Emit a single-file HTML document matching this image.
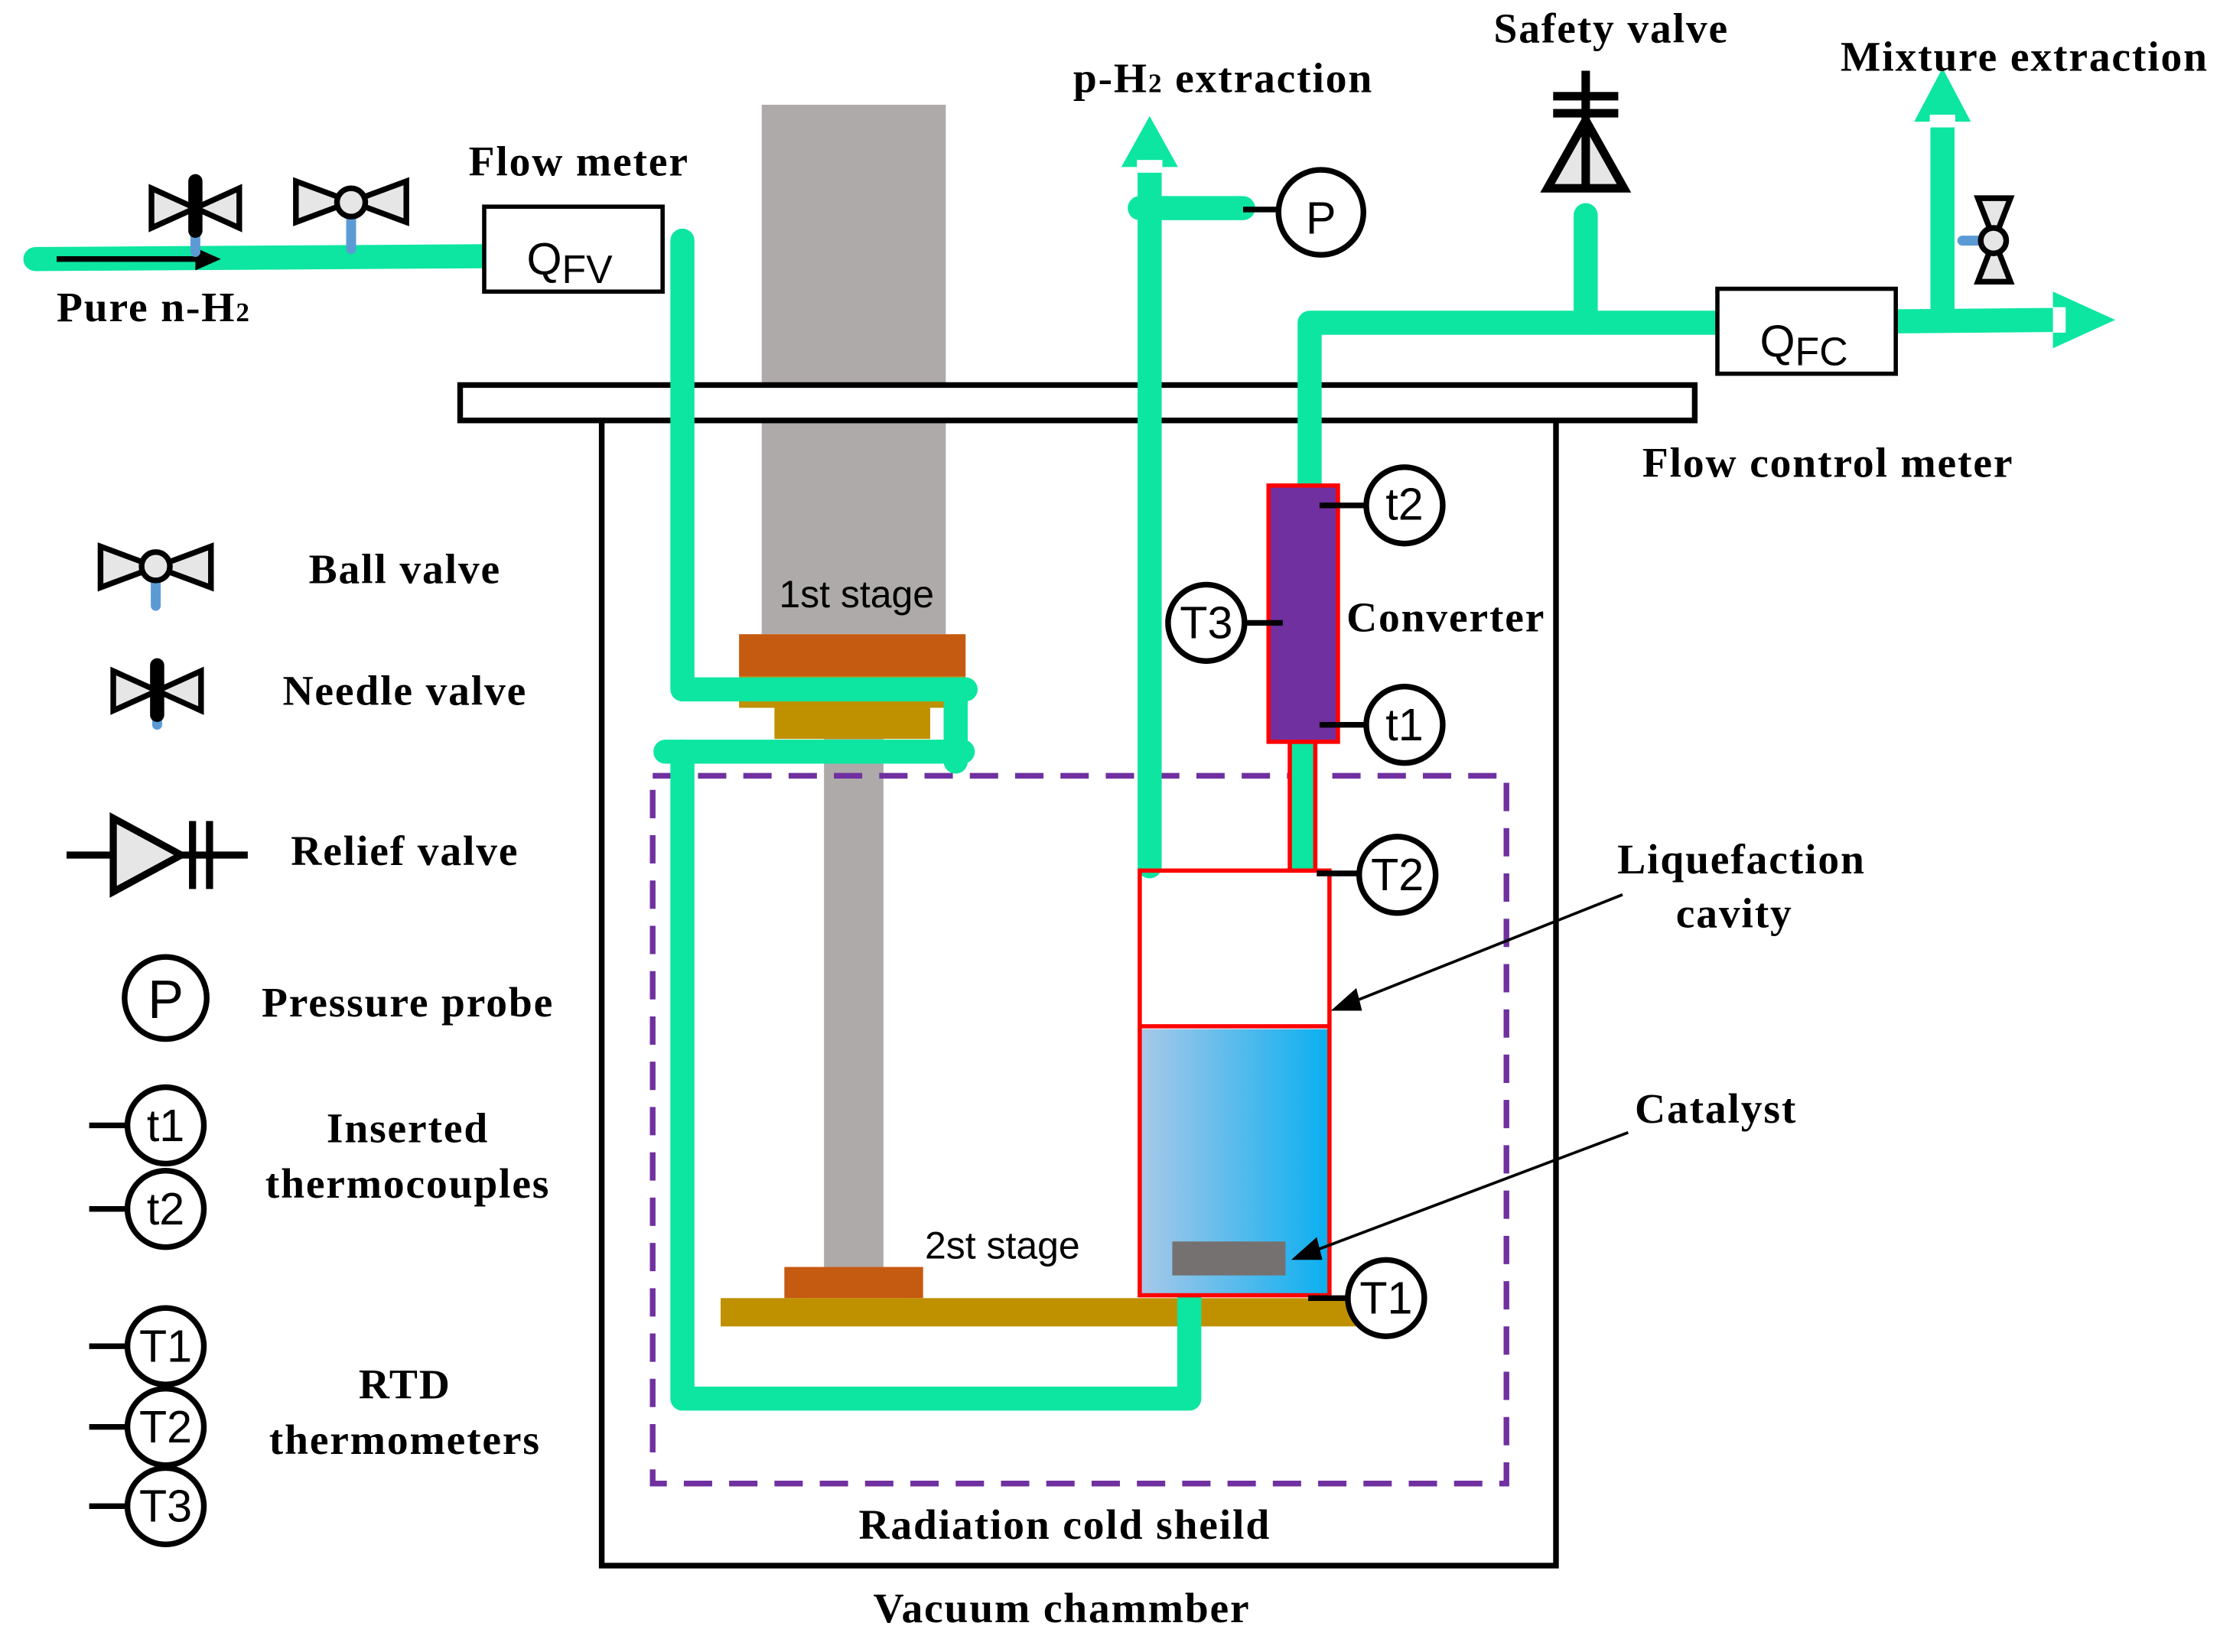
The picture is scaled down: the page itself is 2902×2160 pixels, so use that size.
<!DOCTYPE html>
<html><head><meta charset="utf-8"><style>
html,body{margin:0;padding:0;background:#fff}
svg{display:block}
.l{font-family:"Liberation Serif",serif;font-weight:bold;font-size:30px;letter-spacing:1px;fill:#000}
.s{font-family:"Liberation Sans",sans-serif;font-size:27px;fill:#000}
.c{font-family:"Liberation Sans",sans-serif;font-size:32px;fill:#000}
</style></head><body>
<svg width="2902" height="2160" viewBox="0 0 1568 1167" preserveAspectRatio="none" xmlns="http://www.w3.org/2000/svg">
<defs>
<linearGradient id="bg" x1="0" x2="1" y1="0" y2="0"><stop offset="0" stop-color="#a9c8e8"/><stop offset="1" stop-color="#0aaff0"/></linearGradient>
</defs>
<rect x="538" y="74" width="130" height="374" fill="#aeaaa9"/>
<rect x="582" y="522" width="42" height="373" fill="#aeaaa9"/>
<rect x="522" y="448" width="160" height="30" fill="#c55a11"/>
<rect x="547" y="500" width="110" height="22" fill="#bf9000"/>
<rect x="522" y="478" width="160" height="22" fill="#bf9000"/>
<rect x="554" y="895" width="98" height="22" fill="#c55a11"/>
<rect x="509" y="917" width="451" height="20" fill="#bf9000"/>
<rect x="325" y="272" width="872" height="25" fill="#fff" stroke="#000" stroke-width="4"/>
<polyline points="425,297 425,1106 1099,1106 1099,297" fill="none" stroke="#000" stroke-width="4"/>
<rect x="461" y="548" width="603" height="500" fill="none" stroke="#7030a0" stroke-width="4" stroke-dasharray="20,12"/>
<g stroke="#0ce6a0" stroke-width="17" fill="none" stroke-linecap="round" stroke-linejoin="round">
<line x1="25" y1="183" x2="345" y2="181"/>
<polyline points="482,170 482,487 682,487"/>
<polyline points="675,487 675,538"/>
<polyline points="680,531 470,531"/>
<polyline points="482,531 482,988 840,988 840,913"/>
<polyline points="812,612 812,120"/>
<polyline points="805,147 878,147"/>
<polyline points="925,345 925,228 1213,228"/>
<polyline points="1120,228 1120,152"/>
<polyline points="1339,227 1455,226"/>
<polyline points="1372,226 1372,90"/>
</g>
<polygon points="812,82 792,118 832,118" fill="#0ce6a0"/><rect x="803" y="113" width="18" height="9" fill="#fff"/>
<polygon points="1372,48 1352,86 1392,86" fill="#0ce6a0"/><rect x="1363" y="81" width="18" height="9" fill="#fff"/>
<polygon points="1494,226 1450,206 1450,246" fill="#0ce6a0"/><rect x="1450" y="217" width="9" height="18" fill="#fff"/>
<line x1="40" y1="183" x2="140" y2="183" stroke="#000" stroke-width="4"/><polygon points="156,183 138,175 138,191" fill="#000"/>
<line x1="138" y1="150" x2="138" y2="178" stroke="#5b9bd5" stroke-width="7" stroke-linecap="round"/>
<polygon points="107,133 169,161 169,133 107,161" fill="#e6e6e6" stroke="#000" stroke-width="4"/>
<line x1="138" y1="128" x2="138" y2="163" stroke="#000" stroke-width="10" stroke-linecap="round"/>
<line x1="248" y1="148" x2="248" y2="176" stroke="#5b9bd5" stroke-width="7" stroke-linecap="round"/>
<polygon points="209,128 287,157 287,128 209,157" fill="#e6e6e6" stroke="#000" stroke-width="4"/>
<circle cx="248" cy="143" r="10" fill="#e6e6e6" stroke="#000" stroke-width="4"/>
<rect x="342" y="146" width="126" height="60" fill="#fff" stroke="#000" stroke-width="3"/>
<text x="372" y="194" class="c" font-size="48">Q<tspan font-size="28" dy="6">FV</tspan></text>
<rect x="1213" y="204" width="126" height="60" fill="#fff" stroke="#000" stroke-width="3"/>
<text x="1243" y="252" class="c" font-size="48">Q<tspan font-size="28" dy="6">FC</tspan></text>
<circle cx="933" cy="150" r="30" fill="#fff" stroke="#000" stroke-width="4"/>
<line x1="878" y1="148" x2="903" y2="148" stroke="#000" stroke-width="4"/>
<text x="933" y="165" class="c" font-size="42" text-anchor="middle">P</text>
<polygon points="1120,85 1093,133 1147,133" fill="#e6e6e6" stroke="#000" stroke-width="6"/>
<line x1="1120" y1="50" x2="1120" y2="133" stroke="#000" stroke-width="6"/>
<line x1="1097" y1="68" x2="1143" y2="68" stroke="#000" stroke-width="6"/>
<line x1="1097" y1="80" x2="1143" y2="80" stroke="#000" stroke-width="6"/>
<line x1="1386" y1="170" x2="1402" y2="170" stroke="#5b9bd5" stroke-width="7" stroke-linecap="round"/>
<polygon points="1397,140 1420,140 1397,199 1420,199" fill="#e6e6e6" stroke="#000" stroke-width="4"/>
<circle cx="1408" cy="170" r="9" fill="#e6e6e6" stroke="#000" stroke-width="4"/>
<rect x="911" y="524" width="18" height="91" fill="#0ce6a0" stroke="#f00" stroke-width="3"/>
<rect x="896" y="343" width="49" height="181" fill="#7030a0" stroke="#f00" stroke-width="3"/>
<rect x="805" y="727" width="134" height="188" fill="url(#bg)"/>
<rect x="805" y="615" width="134" height="300" fill="none" stroke="#f00" stroke-width="3"/>
<line x1="805" y1="725" x2="939" y2="725" stroke="#f00" stroke-width="3"/>
<rect x="828" y="877" width="80" height="24" fill="#767171"/>
<line x1="1146" y1="632" x2="950" y2="710" stroke="#000" stroke-width="2"/><polygon points="940,714 958,698 962,714" fill="#000"/>
<line x1="1150" y1="800" x2="922" y2="886" stroke="#000" stroke-width="2"/><polygon points="912,890 930,874 934,890" fill="#000"/>
<g stroke="#000" stroke-width="4" fill="#fff">
<line x1="932" y1="357" x2="965" y2="357"/><circle cx="992" cy="357" r="27"/>
<line x1="880" y1="440" x2="906" y2="440"/><circle cx="852" cy="440" r="27"/>
<line x1="932" y1="512" x2="965" y2="512"/><circle cx="992" cy="512" r="27"/>
<line x1="930" y1="617" x2="960" y2="617"/><circle cx="987" cy="618" r="27"/>
<line x1="924" y1="917" x2="952" y2="917"/><circle cx="979" cy="917" r="27"/>
</g>
<g class="c" text-anchor="middle" font-size="30">
<text x="992" y="367">t2</text><text x="852" y="451">T3</text><text x="992" y="523">t1</text><text x="987" y="629">T2</text><text x="979" y="928">T1</text>
</g>
<line x1="110" y1="405" x2="110" y2="428" stroke="#5b9bd5" stroke-width="7" stroke-linecap="round"/>
<polygon points="71,386 149,415 149,386 71,415" fill="#e6e6e6" stroke="#000" stroke-width="4"/>
<circle cx="110" cy="400" r="10" fill="#e6e6e6" stroke="#000" stroke-width="4"/>
<line x1="111" y1="490" x2="111" y2="512" stroke="#5b9bd5" stroke-width="7" stroke-linecap="round"/>
<polygon points="80,474 142,502 142,474 80,502" fill="#e6e6e6" stroke="#000" stroke-width="4"/>
<line x1="111" y1="470" x2="111" y2="505" stroke="#000" stroke-width="10" stroke-linecap="round"/>
<line x1="47" y1="604" x2="175" y2="604" stroke="#000" stroke-width="5"/>
<polygon points="80,578 80,630 128,604" fill="#e6e6e6" stroke="#000" stroke-width="5"/>
<line x1="136" y1="580" x2="136" y2="628" stroke="#000" stroke-width="5"/>
<line x1="148" y1="580" x2="148" y2="628" stroke="#000" stroke-width="5"/>
<g stroke="#000" stroke-width="4" fill="#fff">
<circle cx="117" cy="705" r="29"/>
<line x1="63" y1="795" x2="90" y2="795"/><circle cx="117" cy="795" r="27"/>
<line x1="63" y1="854" x2="90" y2="854"/><circle cx="117" cy="854" r="27"/>
<line x1="63" y1="951" x2="90" y2="951"/><circle cx="117" cy="951" r="27"/>
<line x1="63" y1="1008" x2="90" y2="1008"/><circle cx="117" cy="1008" r="27"/>
<line x1="63" y1="1064" x2="90" y2="1064"/><circle cx="117" cy="1064" r="27"/>
</g>
<g class="c" text-anchor="middle" font-size="30">
<text x="117" y="719" font-size="38">P</text>
<text x="117" y="806">t1</text><text x="117" y="865">t2</text>
<text x="117" y="962">T1</text><text x="117" y="1019">T2</text><text x="117" y="1075">T3</text>
</g>
<g class="l">
<text x="40" y="227">Pure n-H<tspan font-size="19">2</tspan></text>
<text x="331" y="124">Flow meter</text>
<text x="758" y="65">p-H<tspan font-size="19">2</tspan> extraction</text>
<text x="1055" y="30">Safety valve</text>
<text x="1300" y="50">Mixture extraction</text>
<text x="1160" y="337">Flow control meter</text>
<text x="951" y="446">Converter</text>
<text x="1230" y="617" text-anchor="middle">Liquefaction</text>
<text x="1225" y="655" text-anchor="middle">cavity</text>
<text x="1212" y="793" text-anchor="middle">Catalyst</text>
<text x="752" y="1087" text-anchor="middle">Radiation cold sheild</text>
<text x="750" y="1146" text-anchor="middle">Vacuum chammber</text>
<text x="286" y="412" text-anchor="middle">Ball valve</text>
<text x="286" y="498" text-anchor="middle">Needle valve</text>
<text x="286" y="611" text-anchor="middle">Relief valve</text>
<text x="288" y="718" text-anchor="middle">Pressure probe</text>
<text x="288" y="807" text-anchor="middle">Inserted</text>
<text x="288" y="846" text-anchor="middle">thermocouples</text>
<text x="286" y="988" text-anchor="middle">RTD</text>
<text x="286" y="1027" text-anchor="middle">thermometers</text>
</g>
<text x="605" y="429" class="s" text-anchor="middle">1st stage</text>
<text x="708" y="889" class="s" text-anchor="middle">2st stage</text>
</svg>
</body></html>
